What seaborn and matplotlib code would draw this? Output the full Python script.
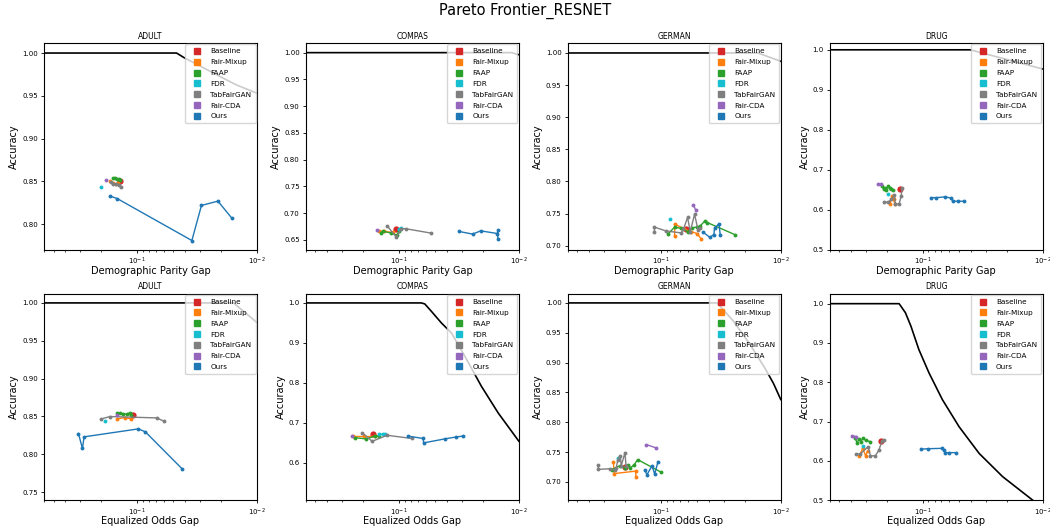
import matplotlib
matplotlib.use("Agg")
import matplotlib.pyplot as plt
import pandas as pd
import seaborn as sns
from matplotlib.lines import Line2D

METHODS = ["Baseline", "Fair-Mixup", "FAAP", "FDR", "TabFairGAN", "Fair-CDA", "Ours"]
COLORS = {
    "Baseline": "tab:red",
    "Fair-Mixup": "tab:orange",
    "FAAP": "tab:green",
    "FDR": "tab:cyan",
    "TabFairGAN": "tab:gray",
    "Fair-CDA": "tab:purple",
    "Ours": "tab:blue",
}
DATASETS = ["ADULT", "COMPAS", "GERMAN", "DRUG"]

# ---- demographic parity gap vs accuracy ----
adult_dp = {
    "Baseline": ([0.140], [0.851]),
    "Fair-Mixup": ([0.168, 0.160, 0.152, 0.146], [0.850, 0.848, 0.847, 0.848]),
    "FAAP": ([0.158, 0.153, 0.148, 0.143, 0.139], [0.854, 0.854, 0.853, 0.853, 0.852]),
    "FDR": ([0.200], [0.844]),
    "TabFairGAN": ([0.167, 0.160, 0.150, 0.142, 0.138], [0.849, 0.847, 0.847, 0.846, 0.843]),
    "Fair-CDA": ([0.183], [0.852]),
    "Ours": ([0.169, 0.147, 0.035, 0.0291, 0.0212, 0.0162], [0.833, 0.830, 0.781, 0.822, 0.827, 0.807]),
}
compas_dp = {
    "Baseline": ([0.107], [0.671]),
    "Fair-Mixup": ([0.148, 0.135, 0.113], [0.667, 0.666, 0.664]),
    "FAAP": ([0.141, 0.136, 0.116, 0.105, 0.100], [0.663, 0.666, 0.663, 0.659, 0.666]),
    "FDR": ([0.100, 0.096], [0.671, 0.672]),
    "TabFairGAN": ([0.1256, 0.1054, 0.0958, 0.088, 0.0547], [0.676, 0.655, 0.671, 0.671, 0.663]),
    "Fair-CDA": ([0.152], [0.668]),
    "Ours": ([0.0317, 0.0244, 0.0208, 0.0151, 0.0150, 0.0150], [0.666, 0.661, 0.667, 0.662, 0.668, 0.651]),
}
german_dp = {
    "Baseline": ([0.0617], [0.726]),
    "Fair-Mixup": ([0.077, 0.077, 0.064, 0.056, 0.050, 0.046], [0.715, 0.734, 0.726, 0.722, 0.719, 0.710]),
    "FAAP": ([0.0867, 0.0771, 0.068, 0.0597, 0.055, 0.0502, 0.047, 0.0433, 0.041, 0.0243],
             [0.719, 0.729, 0.727, 0.722, 0.728, 0.729, 0.731, 0.738, 0.736, 0.7175]),
    "FDR": ([0.0845], [0.741]),
    "TabFairGAN": ([0.1135, 0.1135, 0.0908, 0.0679, 0.065, 0.060, 0.057, 0.0525, 0.049, 0.0477],
                   [0.721, 0.729, 0.723, 0.720, 0.726, 0.744, 0.722, 0.749, 0.724, 0.727]),
    "Fair-CDA": ([0.0536, 0.0514], [0.763, 0.756]),
    "Ours": ([0.0444, 0.0391, 0.0362, 0.0357, 0.0328, 0.0320], [0.721, 0.713, 0.7175, 0.728, 0.734, 0.716]),
}
drug_dp = {
    "Baseline": ([0.156], [0.651]),
    "Fair-Mixup": ([0.189, 0.180, 0.176, 0.171], [0.613, 0.635, 0.626, 0.613]),
    "FAAP": ([0.219, 0.213, 0.208, 0.203, 0.195, 0.188, 0.183, 0.177],
             [0.660, 0.651, 0.655, 0.649, 0.660, 0.654, 0.651, 0.650]),
    "FDR": ([0.197], [0.639]),
    "TabFairGAN": ([0.212, 0.194, 0.183, 0.173, 0.170, 0.158, 0.152, 0.149],
                   [0.618, 0.619, 0.626, 0.636, 0.614, 0.614, 0.634, 0.653]),
    "Fair-CDA": ([0.236, 0.224], [0.664, 0.664]),
    "Ours": ([0.0850, 0.0772, 0.0653, 0.0584, 0.0561, 0.0510, 0.0450],
             [0.630, 0.630, 0.632, 0.629, 0.621, 0.621, 0.621]),
}

# ---- equalized odds gap vs accuracy ----
adult_eo = {
    "Baseline": ([0.109], [0.8517]),
    "Fair-Mixup": ([0.147, 0.127, 0.113], [0.8468, 0.8486, 0.8468]),
    "FAAP": ([0.147, 0.140, 0.131, 0.123, 0.115, 0.112], [0.8548, 0.854, 0.8535, 0.853, 0.8548, 0.8526]),
    "FDR": ([0.186], [0.8446]),
    "TabFairGAN": ([0.199, 0.169, 0.0688, 0.0597], [0.8468, 0.8499, 0.8481, 0.8437]),
    "Fair-CDA": ([0.147], [0.852]),
    "Ours": ([0.310, 0.287, 0.278, 0.098, 0.0856, 0.0422], [0.8275, 0.8077, 0.8231, 0.8336, 0.8297, 0.7808]),
}
compas_eo = {
    "Baseline": ([0.165], [0.671]),
    "Fair-Mixup": ([0.245, 0.195, 0.160], [0.667, 0.667, 0.667]),
    "FAAP": ([0.235, 0.188, 0.160, 0.146], [0.663, 0.660, 0.667, 0.668]),
    "FDR": ([0.146, 0.137, 0.131], [0.671, 0.672, 0.672]),
    "TabFairGAN": ([0.203, 0.168, 0.126, 0.078], [0.675, 0.654, 0.669, 0.661]),
    "Fair-CDA": ([0.250], [0.668]),
    "Ours": ([0.0842, 0.0631, 0.0624, 0.0416, 0.0332, 0.0292], [0.667, 0.661, 0.650, 0.660, 0.665, 0.667]),
}
german_eo = {
    "Baseline": ([0.200], [0.725]),
    "Fair-Mixup": ([0.250, 0.246, 0.163, 0.162], [0.733, 0.714, 0.718, 0.708]),
    "FAAP": ([0.258, 0.219, 0.200, 0.187, 0.180, 0.167, 0.157, 0.101],
             [0.7207, 0.7274, 0.7235, 0.729, 0.7235, 0.729, 0.7374, 0.7168]),
    "FDR": ([0.227], [0.740]),
    "TabFairGAN": ([0.334, 0.334, 0.266, 0.243, 0.236, 0.230, 0.219, 0.215, 0.200, 0.196],
                   [0.728, 0.721, 0.722, 0.720, 0.724, 0.737, 0.744, 0.727, 0.749, 0.726]),
    "Fair-CDA": ([0.133, 0.110], [0.7626, 0.757]),
    "Ours": ([0.137, 0.131, 0.119, 0.113, 0.106], [0.720, 0.712, 0.727, 0.713, 0.734]),
}
drug_eo = {
    "Baseline": ([0.226], [0.650]),
    "Fair-Mixup": ([0.339, 0.318, 0.301, 0.290], [0.613, 0.632, 0.613, 0.625]),
    "FAAP": ([0.366, 0.355, 0.343, 0.330, 0.318, 0.300, 0.274], [0.6576, 0.645, 0.655, 0.649, 0.6576, 0.652, 0.649]),
    "FDR": ([0.318], [0.639]),
    "TabFairGAN": ([0.361, 0.334, 0.287, 0.274, 0.249, 0.233, 0.219, 0.212],
                   [0.6175, 0.6175, 0.636, 0.613, 0.613, 0.628, 0.6516, 0.653]),
    "Fair-CDA": ([0.390, 0.361], [0.664, 0.662]),
    "Ours": ([0.104, 0.090, 0.069, 0.067, 0.0655, 0.0605, 0.0525], [0.630, 0.631, 0.632, 0.627, 0.621, 0.621, 0.621]),
}

# ---- frontier curves ----
frontier_dp = {
    "ADULT": ([0.6, 0.047, 0.04, 0.03, 0.02, 0.015, 0.01], [1.0, 1.0, 0.994, 0.985, 0.972, 0.963, 0.953]),
    "COMPAS": ([0.6, 0.0115, 0.01], [1.0, 1.0, 0.996]),
    "GERMAN": ([0.6, 0.0155, 0.01], [1.0, 1.0, 0.987]),
    "DRUG": ([0.6, 0.0403, 0.02, 0.01], [1.0, 1.0, 0.976, 0.952]),
}
frontier_eo = {
    "ADULT": ([0.6, 0.0157, 0.01], [1.0, 1.0, 0.974]),
    "COMPAS": ([0.6, 0.0652, 0.0611, 0.0538, 0.0444, 0.0366, 0.0283, 0.0206, 0.0149, 0.01],
               [1.0, 1.0, 0.9975, 0.979, 0.95, 0.925, 0.867, 0.792, 0.725, 0.654]),
    "GERMAN": ([0.6, 0.034, 0.025, 0.018, 0.0135, 0.0115, 0.01], [1.0, 1.0, 0.97, 0.93, 0.89, 0.865, 0.838]),
    "DRUG": ([0.6, 0.158, 0.140, 0.126, 0.108, 0.089, 0.0688, 0.0499, 0.0339, 0.0216, 0.0121],
             [1.0, 1.0, 0.977, 0.943, 0.883, 0.824, 0.756, 0.687, 0.619, 0.560, 0.5]),
}

ylims_dp = {"ADULT": (0.7704, 1.0117), "COMPAS": (0.632, 1.018), "GERMAN": (0.694, 1.0155), "DRUG": (0.5, 1.017)}
ylims_eo = {"ADULT": (0.7394, 1.0123), "COMPAS": (0.5067, 1.0233), "GERMAN": (0.6693, 1.0156), "DRUG": (0.5, 1.0256)}

rows = [
    ("Demographic Parity Gap", [adult_dp, compas_dp, german_dp, drug_dp], frontier_dp, ylims_dp),
    ("Equalized Odds Gap", [adult_eo, compas_eo, german_eo, drug_eo], frontier_eo, ylims_eo),
]

fig, axes = plt.subplots(2, 4, figsize=(10.5, 5.31), dpi=100)
fig.subplots_adjust(left=0.042, right=0.993, bottom=0.058, top=0.919, wspace=0.23, hspace=0.213)

for r, (xlabel, panels, frontier, ylims) in enumerate(rows):
    for c, name in enumerate(DATASETS):
        ax = axes[r, c]
        fx, fy = frontier[name]
        sns.lineplot(x=fx, y=fy, ax=ax, color="black", linewidth=1.2, sort=False, estimator=None)
        for method in METHODS:
            xs, ys = panels[c][method]
            df = pd.DataFrame({"gap": xs, "acc": ys})
            size = 4.5 if method == "Baseline" else 2.8
            sns.lineplot(data=df, x="gap", y="acc", ax=ax, color=COLORS[method], marker="o",
                         markersize=size, markeredgewidth=0, linewidth=1.0, sort=False, estimator=None)
        ax.set_xscale("log")
        ax.set_xlim(0.6, 0.01)
        ax.set_ylim(*ylims[name])
        ax.set_title(name, fontsize=5.5, pad=3)
        ax.set_xlabel(xlabel, fontsize=7, labelpad=-1)
        ax.set_ylabel("Accuracy", fontsize=7, labelpad=2)
        ax.tick_params(labelsize=5, length=2.5, width=0.6, pad=2)
        ax.tick_params(which="minor", length=1.5, width=0.5)
        for sp in ax.spines.values():
            sp.set_linewidth(0.8)
        handles = [Line2D([], [], linestyle="none", marker="s", markersize=5, color=COLORS[m], label=m)
                   for m in METHODS]
        ax.legend(handles=handles, loc="upper right", fontsize=5.2, handletextpad=0.65,
                  borderpad=0.55, labelspacing=0.66, handlelength=2.3, borderaxespad=0.2)

fig.suptitle("Pareto Frontier_RESNET", fontsize=10.5, y=0.995)
fig.savefig("out.png", dpi=100)
